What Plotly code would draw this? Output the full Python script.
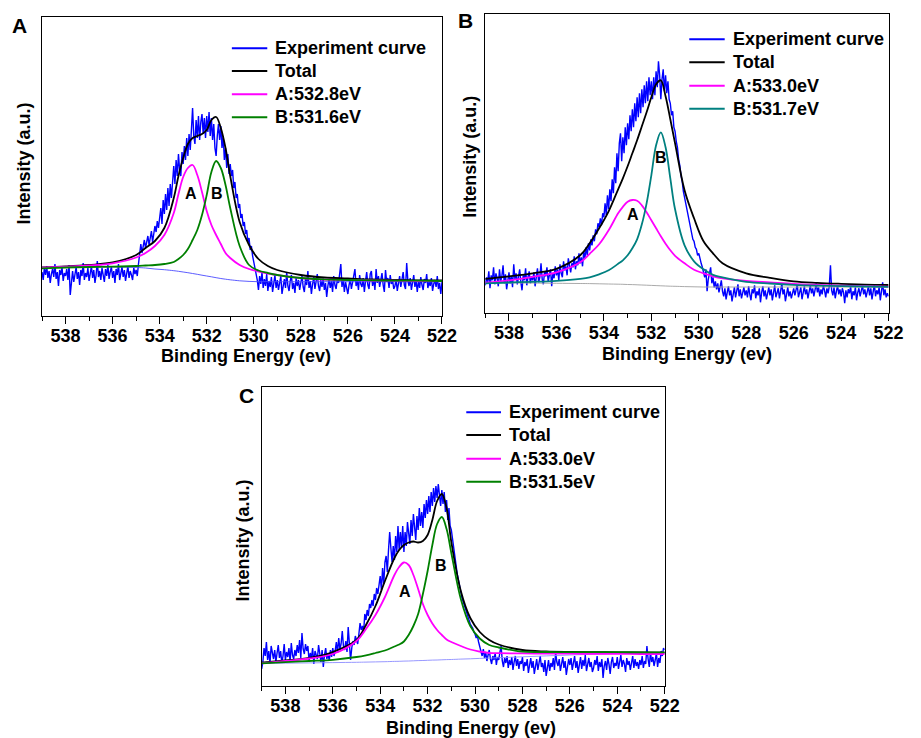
import plotly.graph_objects as go

W, H = 921, 738

# ---------------- data ----------------
# energy grid of the fitted components (eV)
fit_energy = [539, 538, 537, 536, 535, 534.6, 534.2, 533.8, 533.4, 533.2, 533.0,
              532.8, 532.6, 532.4, 532.2, 532.0, 531.8, 531.6, 531.4, 531.2, 531.0,
              530.6, 530.2, 529.8, 529.4, 529, 528, 527, 526, 525, 524, 523, 522]

# experimental spectra sampled every 0.05 eV from 539.00 down to 522.00 (one row = 1 eV)
exp_start = 539.0
exp_step = 0.05

a_exp = [44, 36, 48, 41, 50, 38, 45, 33, 42, 47, 39, 52, 37, 44, 30, 46, 41, 49, 35, 43,
         40, 47, 36, 51, 21, 38, 45, 34, 42, 49, 37, 44, 31, 46, 40, 53, 36, 43, 39, 48,
         35, 44, 50, 38, 46, 33, 41, 55, 39, 45, 36, 48, 42, 34, 47, 40, 51, 37, 44, 49,
         38, 45, 33, 47, 41, 52, 36, 44, 49, 39, 46, 35, 43, 50, 38, 45, 41, 36, 48, 42,
         46, 40, 52, 66, 72, 63, 70, 76, 68, 74, 80, 71, 78, 85, 74, 82, 90, 84, 95, 88,
         98, 108, 92, 116, 102, 122, 106, 128, 110, 132, 118, 138, 150, 132, 156, 140, 162, 146, 140, 164,
         152, 170, 156, 178, 160, 182, 166, 186, 208, 180, 172, 196, 178, 200, 176, 194, 202, 182, 198, 178,
         200, 184, 204, 180, 198, 176, 192, 168, 160, 180, 192, 176, 190, 168, 180, 156, 168, 148, 162, 142,
         152, 140, 146, 128, 134, 118, 122, 108, 112, 98, 102, 90, 94, 82, 86, 74, 78, 66, 70, 60,
         54, 48, 44, 36, 26, 40, 32, 44, 28, 37, 30, 42, 25, 35, 29, 39, 24, 33, 41, 28,
         36, 26, 33, 40, 22, 31, 37, 28, 44, 30, 25, 35, 41, 27, 33, 23, 38, 30, 36, 26,
         34, 40, 29, 24, 37, 31, 45, 28, 35, 22, 32, 39, 27, 34, 42, 30, 25, 36, 29, 38,
         26, 33, 19, 30, 37, 28, 35, 24, 40, 31, 27, 36, 33, 42, 52, 29, 38, 24, 34, 28,
         22, 31, 37, 27, 33, 40, 47, 30, 36, 26, 41, 32, 29, 38, 24, 35, 44, 31, 27, 42,
         45, 30, 37, 26, 47, 33, 40, 29, 35, 43, 31, 24, 46, 34, 38, 28, 41, 32, 36, 27,
         30, 37, 25, 34, 40, 29, 36, 44, 31, 27, 53, 35, 30, 38, 26, 33, 41, 29, 36, 24,
         35, 28, 39, 31, 26, 37, 33, 42, 28, 34, 30, 38, 25, 32, 36, 29, 40, 27, 33, 22,
         34]
a_total = [48.5, 49.5, 51, 53.5, 61, 68, 75, 88, 118, 140, 158, 172, 178, 180, 182, 186,
           196, 199, 188, 168, 140, 94, 71, 57, 50, 46, 41, 38.5, 37.5, 36.5, 36, 35.7, 35.5]
a_peak_a = [48.3, 49.3, 50.5, 52.7, 58.5, 63, 70, 81, 103, 122, 139, 148, 151, 141, 124, 105,
            91, 81, 72, 63, 58, 51, 47, 44.5, 42.5, 41, 38, 36.5, 36, 35.5, 35.3, 35, 35]
a_peak_b = [47.7, 48.5, 49, 49.3, 50, 50.5, 51, 52, 54, 57, 61, 67, 76, 86, 101, 121,
            144, 155, 148, 131, 108, 70, 51, 45.5, 43, 41, 38, 36.7, 36, 35.7, 35.3, 35.3, 35]
a_base = [48.5, 48.7, 49, 49, 48.5, 48, 47, 46.3, 45.3, 44.7, 44, 43.3, 42.5, 41.7, 40.8, 40,
          39.2, 38.3, 37.5, 36.8, 36.2, 35.2, 34.6, 34.3, 34.3, 34.3, 34.3, 34.3, 34.3, 34.3,
          34.3, 34.3, 34.3]

b_exp = [28, 36, 31, 42, 25, 38, 33, 46, 29, 40, 35, 27, 44, 32, 37, 48, 30, 39, 24, 35,
         41, 30, 37, 26, 49, 34, 40, 29, 36, 44, 31, 23, 38, 33, 45, 28, 36, 42, 30, 37,
         33, 41, 27, 38, 45, 31, 36, 50, 34, 29, 42, 37, 46, 32, 39, 44, 27, 40, 35, 47,
         38, 44, 33, 49, 40, 36, 52, 43, 47, 38, 55, 45, 41, 50, 46, 57, 44, 52, 48, 60,
         50, 56, 47, 62, 55, 66, 58, 70, 63, 74, 68, 78, 72, 84, 79, 90, 86, 95, 88, 100,
         96, 110, 98, 118, 104, 124, 112, 134, 120, 146, 130, 160, 142, 170, 180, 152, 176, 160, 186, 168,
         190, 174, 198, 182, 204, 186, 210, 192, 216, 196, 220, 200, 224, 206, 228, 210, 232, 212, 236, 218,
         232, 214, 236, 218, 242, 226, 252, 238, 214, 234, 244, 222, 238, 220, 232, 214, 210, 198, 202, 186,
         182, 172, 166, 154, 148, 138, 132, 122, 116, 108, 104, 96, 90, 84, 80, 74, 72, 66, 64, 58,
         60, 54, 50, 46, 42, 36, 44, 22, 34, 40, 46, 30, 36, 26, 32, 24, 30, 21, 28, 33,
         22, 17, 25, 14, 21, 27, 18, 23, 12, 20, 26, 16, 22, 29, 17, 24, 15, 21, 26, 18,
         23, 16, 27, 19, 13, 24, 20, 28, 15, 22, 18, 25, 11, 21, 27, 17, 23, 14, 20, 26,
         18, 24, 13, 22, 28, 16, 21, 25, 15, 23, 30, 19, 24, 12, 20, 26, 17, 22, 15, 21,
         25, 18, 23, 29, 16, 21, 26, 14, 22, 27, 19, 24, 15, 21, 28, 20, 25, 17, 23, 30,
         21, 26, 17, 24, 19, 28, 23, 16, 25, 20, 27, 48, 23, 18, 26, 15, 22, 28, 19, 24,
         17, 25, 21, 10, 23, 16, 24, 20, 27, 14, 22, 18, 26, 13, 21, 25, 17, 23, 28, 19,
         24, 16, 22, 27, 18, 25, 14, 21, 29, 17, 23, 19, 26, 13, 22, 31, 18, 24, 16, 20,
         17]
b_total = [34.5, 37, 40, 44.5, 58, 70, 85, 102, 124, 135, 147, 160, 173, 187, 201, 216,
           229, 233, 217, 194, 170, 123, 95, 72, 60, 50, 40, 35.5, 32, 30.5, 29.5, 28.7, 28.3]
b_peak_a = [30.7, 33, 36.5, 41, 51, 59.5, 69, 83, 100, 106.5, 111.5, 113.3, 112.5, 108, 101, 93,
            85, 77, 69.5, 63, 57.5, 50, 43.5, 40, 37, 35, 32.5, 31, 29.5, 28.5, 27.7, 27.2, 26.7]
b_peak_b = [30, 30.8, 31.5, 32.5, 34.5, 36, 39, 43, 49.5, 53, 58, 65, 74, 89, 110, 138,
            168, 181, 166, 135, 104, 68, 52, 44, 38.5, 36, 31.5, 29.8, 28.5, 27.7, 27.2, 26.8, 26.5]
b_base = [30.5, 30.4, 30.2, 30, 29.8, 29.7, 29.5, 29.3, 29.1, 29, 28.8, 28.7, 28.5, 28.3, 28.1,
          27.9, 27.7, 27.5, 27.3, 27.1, 27, 26.7, 26.5, 26.3, 26.3, 26.3, 26.3, 26.3, 26.3,
          26.3, 26.3, 26.3, 26.3]

c_exp = [17, 24, 38, 30, 44, 26, 35, 22, 40, 31, 27, 36, 24, 33, 41, 28, 35, 23, 30, 42,
         26, 34, 29, 38, 24, 43, 31, 27, 36, 30, 41, 33, 46, 28, 53, 37, 32, 42, 35, 40,
         25, 33, 28, 38, 22, 35, 30, 27, 41, 34, 24, 36, 19, 31, 38, 27, 33, 25, 36, 29,
         38, 30, 35, 44, 33, 48, 37, 42, 55, 40, 36, 45, 34, 59, 43, 26, 38, 45, 41, 50,
         46, 42, 52, 63, 56, 60, 54, 72, 66, 76, 70, 82, 78, 86, 80, 92, 86, 98, 92, 104,
         110, 96, 118, 102, 124, 130, 114, 136, 154, 138, 124, 140, 126, 150, 134, 160, 136, 154, 138, 160,
         134, 154, 140, 164, 148, 142, 166, 150, 172, 154, 146, 170, 156, 178, 160, 174, 158, 182, 168, 186,
         172, 190, 174, 194, 180, 198, 184, 200, 188, 202, 186, 180, 196, 182, 194, 174, 186, 166, 178, 160,
         156, 146, 138, 128, 120, 112, 106, 98, 94, 88, 84, 80, 76, 72, 70, 66, 62, 60, 58, 54,
         52, 48, 50, 44, 40, 34, 30, 37, 28, 34, 25, 31, 36, 27, 22, 30, 26, 33, 21, 29,
         26, 34, 40, 25, 19, 28, 23, 30, 18, 26, 21, 29, 16, 24, 30, 20, 27, 17, 25, 22,
         29, 15, 24, 20, 27, 13, 22, 28, 18, 25, 12, 21, 27, 16, 24, 30, 19, 23, 14, 26,
         10, 21, 26, 15, 23, 19, 28, 16, 34, 24, 20, 27, 15, 22, 29, 18, 25, 11, 21, 27,
         21, 28, 16, 24, 30, 18, 25, 13, 22, 29, 17, 26, 20, 31, 15, 23, 28, 19, 24, 14,
         18, 26, 21, 30, 15, 24, 19, 27, 8, 20, 25, 16, 28, 22, 12, 24, 29, 18, 23, 20,
         29, 17, 25, 31, 19, 26, 22, 14, 28, 21, 25, 16, 23, 30, 18, 27, 20, 24, 17, 26,
         21, 30, 18, 25, 22, 40, 27, 19, 34, 24, 29, 20, 26, 33, 19, 28, 23, 35, 30, 38,
         36]
c_total = [23.3, 25.5, 28, 34, 46, 61, 80, 105, 128, 136, 141, 143.5, 144.5, 143.5, 145, 151,
           166, 185, 192, 178, 144, 95, 68, 54, 46, 41.5, 36, 34.5, 34, 33.8, 33.7, 33.5, 33.4]
c_peak_a = [22.7, 25, 27.5, 32, 45, 57, 71, 89, 111, 119, 123.5, 121, 111, 97, 82, 71,
            62.5, 56, 51, 46.5, 44, 40, 36.5, 34.5, 33, 32.8, 32.6, 32.4, 32.3, 32.2, 32.1, 32, 32]
c_peak_b = [22.7, 23.8, 25, 26.2, 29, 30.7, 33, 35.5, 39.5, 41.5, 44.5, 51, 60, 72, 92, 115,
            141, 162, 169, 157, 133, 87, 60, 47.5, 41, 38.5, 34.3, 34, 33.9, 33.8, 33.8, 33.7, 33.7]
c_base = [22.5, 22.8, 23.1, 23.4, 23.7, 23.9, 24.1, 24.3, 24.6, 24.7, 24.9, 25, 25.2, 25.4,
          25.5, 25.7, 25.9, 26, 26.2, 26.4, 26.5, 26.9, 27.2, 27.6, 27.9, 28.3, 29.2, 30.1,
          31, 31.8, 32.5, 33, 33.3]

panel_letters = ["A", "B", "C"]
legend_names = [
    ["Experiment curve", "Total", "A:532.8eV", "B:531.6eV"],
    ["Experiment curve", "Total", "A:533.0eV", "B:531.7eV"],
    ["Experiment curve", "Total", "A:533.0eV", "B:531.5eV"],
]
x_ticks = [538, 536, 534, 532, 530, 528, 526, 524, 522]
x_minor_ticks = [539, 537, 535, 533, 531, 529, 527, 525, 523]
x_title = "Binding Energy (ev)"
y_title = "Intensity (a.u.)"

# ---------------- layout helpers ----------------
FONT = "Liberation Sans, Arial, sans-serif"


def px_x(v):
    return v / W


def px_y(v):
    return 1 - v / H


panels = [
    dict(exp=a_exp, total=a_total, pa=a_peak_a, pb=a_peak_b, base=a_base,
         box=(42.7, 17, 449.3, 316), ymax=299, bcolor="#008000", basecolor="#4B4BFF",
         lab_a=(532.66, 122), lab_b=(531.57, 122),
         leg_line=(235.7, 271.7), leg_text=277.7, leg_rows=(48.3, 71, 94.3, 117.3),
         xt=(250.5, 355.5), yt=(24, 164), letter=(19.7, 25.8)),
    dict(exp=b_exp, total=b_total, pa=b_peak_a, pb=b_peak_b, base=b_base,
         box=(493.3, 14, 903.3, 313.3), ymax=299.3, bcolor="#008080", basecolor="#A0A0A0",
         lab_a=(532.78, 98.8), lab_b=(531.6, 156.3),
         leg_line=(700.7, 736.7), leg_text=742.7, leg_rows=(39.3, 62.3, 85.7, 108.7),
         xt=(698.3, 353.5), yt=(477.5, 157), letter=(473.7, 20.8)),
    dict(exp=c_exp, total=c_total, pa=c_peak_a, pb=c_peak_b, base=c_base,
         box=(266, 387.3, 675.7, 686), ymax=298.7, bcolor="#008000", basecolor="#8C8CFF",
         lab_a=(532.95, 94.3), lab_b=(531.44, 121),
         leg_line=(474, 509.3), leg_text=515.7, leg_rows=(412.3, 435, 458.7, 481.7),
         xt=(478.3, 728), yt=(247.5, 540), letter=(250.8, 395.8)),
]

fig = go.Figure()
annotations = []
shapes = []
layout_axes = {}

for i, p in enumerate(panels):
    n = "" if i == 0 else str(i + 1)
    xa, ya = "x" + n, "y" + n
    exp_energy = [round(exp_start - exp_step * k, 2) for k in range(len(p["exp"]))]
    names = legend_names[i]
    colors = ["#0000FF", "#000000", "#FF00FF", p["bcolor"]]

    fig.add_trace(go.Scatter(x=exp_energy, y=p["exp"], mode="lines", name=names[0],
                             line=dict(color=colors[0], width=1.4), xaxis=xa, yaxis=ya,
                             showlegend=False))
    fig.add_trace(go.Scatter(x=fit_energy, y=p["base"], mode="lines", name="Background",
                             line=dict(color=p["basecolor"], width=0.9, shape="spline"),
                             xaxis=xa, yaxis=ya, showlegend=False))
    for name, col, ys in ((names[1], colors[1], p["total"]), (names[2], colors[2], p["pa"]),
                          (names[3], colors[3], p["pb"])):
        fig.add_trace(go.Scatter(x=fit_energy, y=ys, mode="lines", name=name,
                                 line=dict(color=col, width=1.8, shape="spline", smoothing=1),
                                 xaxis=xa, yaxis=ya, showlegend=False))

    x0, y0, x1, y1 = p["box"]
    layout_axes["xaxis" + n] = dict(
        domain=[px_x(x0), px_x(x1)], range=[539, 522], anchor=ya,
        tickmode="array", tickvals=x_ticks, ticks="outside", ticklen=7, tickwidth=1.2,
        tickcolor="black", showline=True, linecolor="black", linewidth=1.2, mirror=True,
        showgrid=False, zeroline=False, ticklabelstandoff=-4,
        tickfont=dict(family=FONT, size=18, color="black", weight="bold"),
        minor=dict(tickmode="array", tickvals=x_minor_ticks,
                   ticks="outside", ticklen=4, tickwidth=1.2, tickcolor="black", showgrid=False),
    )
    layout_axes["yaxis" + n] = dict(
        domain=[px_y(y1), px_y(y0)], range=[0, p["ymax"]], anchor=xa,
        showticklabels=False, ticks="", showline=True, linecolor="black", linewidth=1.2,
        mirror=True, showgrid=False, zeroline=False,
    )

    # legend (line samples + labels)
    lx0, lx1 = p["leg_line"]
    for name, col, ry in zip(names, colors, p["leg_rows"]):
        shapes.append(dict(type="line", xref="paper", yref="paper",
                           x0=px_x(lx0), x1=px_x(lx1), y0=px_y(ry), y1=px_y(ry),
                           line=dict(color=col, width=2)))
        annotations.append(dict(x=px_x(p["leg_text"]), y=px_y(ry), xref="paper", yref="paper",
                                text=name, showarrow=False, xanchor="left", yanchor="middle",
                                font=dict(family=FONT, size=18, color="black", weight="bold")))

    # peak labels
    for txt, (ex, ey) in (("A", p["lab_a"]), ("B", p["lab_b"])):
        annotations.append(dict(x=ex, y=ey, xref=xa, yref=ya, text=txt, showarrow=False,
                                font=dict(family=FONT, size=16, color="black", weight="bold")))
    # axis titles
    tx, ty = p["xt"]
    annotations.append(dict(x=px_x(tx), y=px_y(ty), xref="paper", yref="paper", text=x_title,
                            showarrow=False, xanchor="center", yanchor="middle",
                            font=dict(family=FONT, size=18, color="black", weight="bold")))
    tx, ty = p["yt"]
    annotations.append(dict(x=px_x(tx), y=px_y(ty), xref="paper", yref="paper", text=y_title,
                            showarrow=False, xanchor="center", yanchor="middle", textangle=-90,
                            font=dict(family=FONT, size=18, color="black", weight="bold")))
    # panel letter
    tx, ty = p["letter"]
    annotations.append(dict(x=px_x(tx), y=px_y(ty), xref="paper", yref="paper",
                            text=panel_letters[i], showarrow=False, xanchor="center",
                            yanchor="middle",
                            font=dict(family=FONT, size=21, color="black", weight="bold")))

fig.update_layout(
    width=W, height=H, margin=dict(l=0, r=0, t=0, b=0, pad=0),
    paper_bgcolor="white", plot_bgcolor="white", showlegend=False,
    annotations=annotations, shapes=shapes, **layout_axes,
)

fig.write_html("out.html", config={"displayModeBar": False},
               post_script="document.body.style.margin='0';")
